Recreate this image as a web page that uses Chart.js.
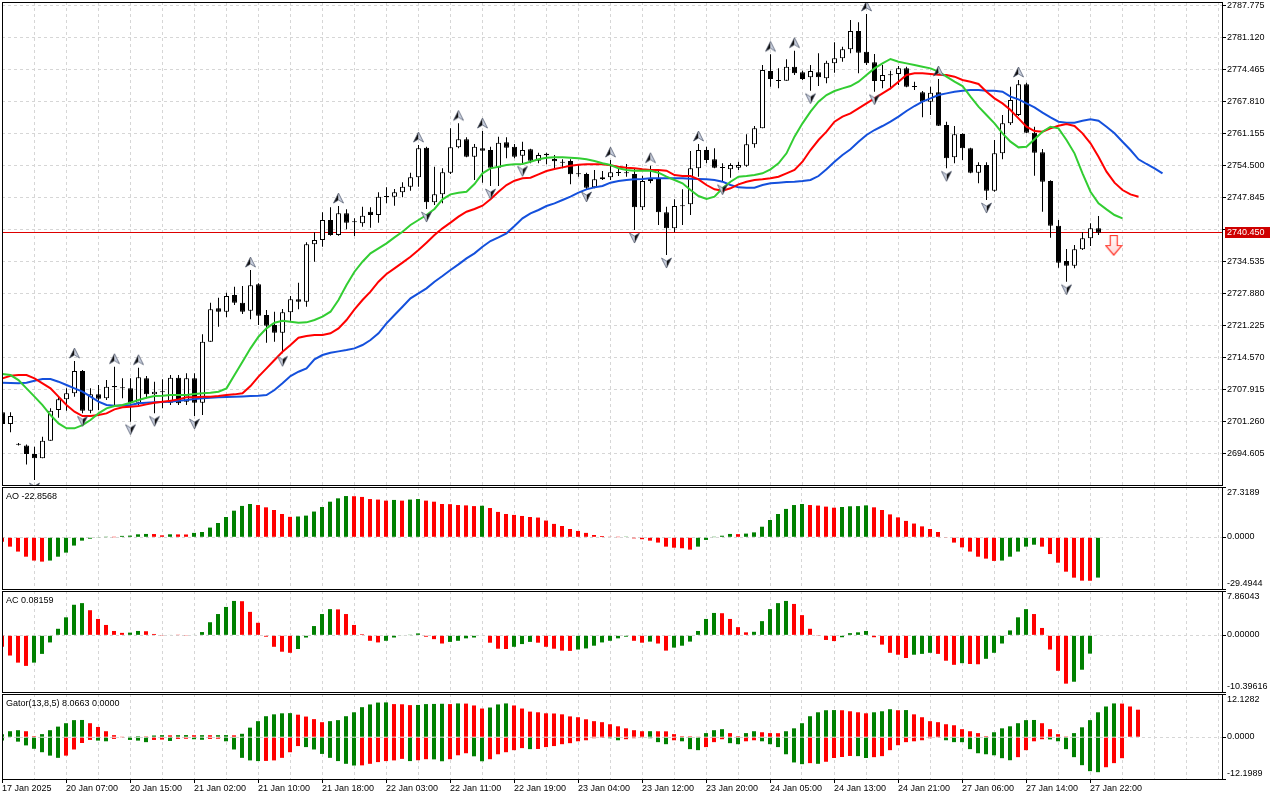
<!DOCTYPE html>
<html>
<head>
<meta charset="utf-8">
<title>XAUUSD H1 – Alligator, AO, AC, Gator</title>
<script src="https://cdn.jsdelivr.net/npm/chart.js@4.4.1/dist/chart.umd.min.js"></script>
<style>
  html, body { margin:0; padding:0; background:#ffffff; width:1280px; height:800px; overflow:hidden; }
  canvas { position:absolute; left:0; top:0; }
</style>
</head>
<body>
<canvas id="mainChart" width="1280" height="800"></canvas>
<canvas id="aoChart" width="1280" height="800"></canvas>
<canvas id="acChart" width="1280" height="800"></canvas>
<canvas id="gatorChart" width="1280" height="800"></canvas>
<script>
// ---------------- DATA ----------------
const tickLabels = ["17 Jan 2025","20 Jan 07:00","20 Jan 15:00","21 Jan 02:00","21 Jan 10:00","21 Jan 18:00",
  "22 Jan 03:00","22 Jan 11:00","22 Jan 19:00","23 Jan 04:00","23 Jan 12:00","23 Jan 20:00",
  "24 Jan 05:00","24 Jan 13:00","24 Jan 21:00","27 Jan 06:00","27 Jan 14:00","27 Jan 22:00"];

const priceTicks = [2694.605,2701.260,2707.915,2714.570,2721.225,2727.880,2734.535,2741.190,
  2747.845,2754.500,2761.155,2767.810,2774.465,2781.120,2787.775];

const opens = [2703.12,2700.69,2696.60,2696.25,2694.45,2693.55,2697.22,2703.60,2705.82,2707.07,
  2711.71,2703.46,2706.86,2706.03,2708.59,2708.32,2708.11,2705.13,2710.19,2706.86,
  2707.42,2705.13,2710.33,2705.34,2710.19,2705.13,2717.82,2724.75,2724.05,2727.52,
  2725.93,2724.26,2729.74,2723.36,2721.28,2719.69,2723.92,2726.62,2726.13,2738.06,
  2738.96,2743.12,2740.00,2744.51,2742.77,2742.43,2744.85,2744.16,2747.97,2747.97,
  2748.87,2750.05,2751.99,2758.16,2746.79,2748.46,2752.97,2758.23,2759.90,2756.29,
  2758.03,2757.68,2754.01,2759.27,2758.37,2756.50,2757.82,2755.46,2756.57,2755.81,
  2755.18,2755.39,2752.76,2752.69,2749.91,2751.58,2751.99,2753.03,2752.97,2752.69,
  2745.75,2751.23,2751.65,2744.71,2741.39,2746.10,2746.38,2753.87,2757.68,2755.74,
  2754.07,2753.66,2754.01,2754.42,2758.86,2762.19,2774.11,2772.17,2772.10,2775.01,
  2773.83,2772.79,2773.83,2772.58,2775.70,2776.74,2778.62,2782.43,2778.13,2775.91,
  2772.03,2773.35,2773.49,2774.67,2770.92,2769.67,2767.73,2769.67,2762.88,2756.15,
  2761.01,2758.03,2752.97,2754.56,2749.22,2756.99,2763.23,2764.96,2771.34,2761.28,
  2757.19,2751.23,2741.94,2734.59,2733.62,2737.02,2739.31,2741.39];

const highs = [2703.46,2703.12,2696.74,2696.46,2695.98,2698.06,2703.95,2706.38,2708.11,2713.79,
  2711.92,2708.11,2708.80,2709.84,2712.62,2710.19,2710.19,2712.41,2710.67,2709.50,
  2709.98,2710.88,2710.88,2711.23,2711.23,2719.34,2725.93,2726.97,2728.01,2729.25,
  2729.39,2732.72,2729.95,2724.40,2724.05,2724.61,2727.31,2730.09,2738.48,2740.56,
  2744.71,2745.75,2746.03,2745.34,2743.47,2745.89,2745.75,2748.87,2749.91,2749.57,
  2750.95,2752.97,2758.72,2758.37,2754.21,2753.87,2762.19,2763.23,2760.31,2758.93,
  2761.63,2758.37,2760.45,2760.31,2758.93,2759.41,2757.96,2757.12,2757.12,2756.64,
  2755.74,2755.74,2754.70,2752.97,2753.52,2753.31,2755.60,2753.87,2754.77,2753.87,
  2752.34,2754.42,2753.38,2745.89,2747.42,2749.50,2757.47,2758.93,2758.37,2758.03,
  2754.91,2754.91,2755.25,2760.94,2762.67,2775.36,2777.58,2774.67,2776.54,2778.34,
  2774.18,2775.36,2777.78,2776.26,2780.07,2779.17,2784.72,2784.23,2785.97,2777.65,
  2775.36,2774.18,2775.15,2775.01,2771.89,2769.95,2770.85,2772.45,2763.57,2762.67,
  2761.15,2758.16,2755.11,2755.11,2759.76,2764.96,2770.85,2772.24,2771.68,2762.53,
  2757.89,2751.40,2743.12,2737.09,2737.92,2740.56,2742.43,2743.95];

const lows = [2700.14,2698.96,2696.25,2692.30,2689.04,2693.55,2697.22,2702.01,2703.46,2706.38,
  2702.91,2702.91,2703.60,2705.68,2704.64,2706.03,2701.18,2704.64,2706.03,2702.91,
  2703.95,2704.64,2704.64,2704.64,2702.35,2702.56,2717.82,2720.94,2722.88,2725.44,
  2723.57,2722.46,2721.28,2717.61,2717.82,2715.39,2722.18,2724.54,2725.09,2734.45,
  2737.57,2739.86,2739.86,2741.18,2739.79,2741.73,2741.53,2742.57,2746.59,2746.10,
  2747.83,2749.22,2750.05,2745.41,2746.24,2746.59,2752.69,2758.03,2756.15,2751.44,
  2750.89,2750.19,2750.19,2755.95,2755.95,2754.91,2754.91,2754.91,2754.70,2753.52,
  2753.87,2750.54,2752.13,2749.57,2749.71,2751.44,2751.44,2752.27,2752.13,2741.04,
  2745.20,2750.75,2742.08,2735.84,2740.56,2742.08,2744.16,2752.13,2754.91,2753.87,
  2751.09,2751.93,2753.52,2754.21,2758.16,2762.19,2770.85,2770.51,2772.10,2773.28,
  2772.24,2770.02,2770.99,2771.54,2773.76,2776.05,2777.78,2773.62,2775.36,2769.81,
  2770.51,2770.30,2771.20,2770.71,2770.16,2764.47,2764.96,2762.67,2753.87,2754.91,
  2755.60,2752.83,2750.75,2747.28,2749.01,2755.74,2762.88,2764.75,2761.15,2752.34,
  2744.85,2739.45,2733.21,2730.29,2733.07,2736.88,2737.71,2740.00];

const closes = [2700.69,2702.35,2696.39,2694.45,2693.55,2697.22,2703.46,2705.82,2707.07,2711.71,
  2703.46,2706.86,2705.96,2708.46,2708.32,2708.11,2705.13,2710.40,2706.86,2707.42,
  2707.28,2710.33,2704.99,2710.19,2705.13,2717.82,2724.54,2724.05,2727.31,2725.93,
  2724.05,2729.53,2723.22,2721.14,2719.69,2723.92,2726.62,2726.13,2738.06,2738.96,
  2743.12,2740.00,2744.51,2742.57,2742.64,2744.02,2744.16,2747.97,2747.90,2748.87,
  2750.05,2751.99,2758.03,2746.79,2748.46,2753.03,2758.23,2759.90,2756.29,2758.37,
  2757.54,2754.01,2759.20,2758.16,2756.29,2757.68,2755.46,2756.64,2756.92,2755.32,
  2755.04,2752.62,2752.62,2749.85,2751.58,2751.99,2753.03,2752.90,2752.83,2745.75,
  2751.23,2751.65,2744.71,2741.39,2746.03,2745.96,2753.87,2757.68,2755.60,2754.01,
  2753.94,2754.56,2754.56,2758.86,2762.19,2774.32,2772.45,2772.03,2775.01,2773.62,
  2772.45,2774.11,2772.79,2775.84,2776.74,2778.62,2782.43,2777.92,2775.70,2772.03,
  2773.28,2773.21,2774.67,2770.85,2770.78,2767.73,2769.60,2762.74,2755.95,2760.94,
  2758.03,2752.97,2754.56,2749.22,2756.99,2763.23,2768.08,2771.34,2761.28,2757.12,
  2751.09,2741.94,2734.25,2733.62,2737.02,2739.31,2741.39,2740.45];

// Alligator lines (already shifted forward: jaw +8, teeth +5, lips +3 bars)
const jaw = [2709.29,2709.22,2709.15,2709.29,2709.70,2710.05,2710.05,2709.50,2708.80,2708.11,
  2707.42,2706.38,2705.34,2704.64,2704.50,2704.57,2704.64,2704.99,2705.13,2705.20,
  2705.27,2705.34,2705.54,2705.68,2705.89,2706.03,2706.17,2706.24,2706.31,2706.38,
  2706.44,2706.51,2706.58,2706.72,2707.76,2709.15,2710.67,2711.57,2712.27,2714.14,
  2715.04,2715.53,2715.80,2716.08,2716.43,2717.12,2718.16,2719.55,2721.63,2723.36,
  2725.09,2726.83,2727.87,2728.91,2730.29,2731.47,2732.72,2733.90,2735.15,2736.19,
  2737.57,2738.75,2739.52,2740.35,2741.87,2743.47,2744.51,2745.20,2746.03,2746.59,
  2747.28,2747.97,2748.81,2749.50,2749.91,2750.19,2750.89,2751.23,2751.44,2751.58,
  2751.65,2751.79,2751.79,2751.79,2751.79,2751.79,2751.72,2751.65,2751.58,2751.44,
  2751.09,2750.40,2749.91,2749.84,2749.84,2750.40,2750.75,2750.88,2751.02,2751.09,
  2751.23,2751.44,2752.27,2753.66,2755.25,2756.64,2757.82,2759.41,2760.80,2761.84,
  2762.67,2763.57,2764.61,2765.79,2766.83,2767.73,2768.42,2769.12,2769.46,2769.81,
  2770.02,2770.16,2770.16,2770.02,2770.02,2769.81,2768.77,2768.22,2767.38,2766.55,
  2765.44,2764.47,2763.57,2763.36,2763.36,2763.78,2764.06,2763.78,2762.53,2761.15,
  2759.41,2757.68,2755.74,2754.77,2753.87,2752.83];

const teeth = [2710.19,2710.74,2710.88,2710.88,2710.19,2709.15,2708.11,2706.38,2704.64,2703.26,
  2702.35,2702.35,2702.56,2702.91,2703.74,2704.16,2704.30,2704.43,2704.78,2705.13,
  2705.34,2705.54,2705.82,2706.24,2706.24,2706.38,2706.38,2706.51,2706.72,2706.86,
  2707.07,2708.59,2710.54,2712.27,2714.00,2715.73,2717.12,2718.65,2718.99,2719.20,
  2719.20,2719.55,2720.59,2722.32,2724.54,2726.48,2728.21,2730.29,2731.89,2733.07,
  2734.25,2735.49,2736.88,2738.41,2740.00,2741.39,2742.57,2743.81,2744.85,2745.41,
  2746.10,2747.42,2749.01,2750.40,2751.30,2751.79,2751.92,2752.62,2753.31,2753.73,
  2754.07,2754.42,2754.63,2754.70,2754.70,2754.70,2754.49,2754.21,2754.00,2753.87,
  2753.66,2753.52,2753.52,2753.38,2752.48,2752.27,2752.27,2751.58,2750.40,2749.50,
  2749.22,2749.71,2750.54,2751.09,2751.44,2751.58,2751.79,2752.13,2752.83,2753.52,
  2755.25,2757.68,2759.76,2761.49,2763.57,2764.61,2765.30,2766.35,2767.38,2768.42,
  2769.46,2770.50,2771.89,2773.28,2773.62,2773.62,2773.49,2773.35,2773.28,2772.93,
  2772.24,2771.89,2771.41,2769.81,2768.42,2767.38,2766.00,2764.27,2762.53,2761.63,
  2761.49,2762.19,2762.74,2763.09,2762.67,2761.15,2759.07,2756.29,2753.17,2750.88,
  2749.36,2748.46,2747.97];

const lips = [2711.09,2710.88,2709.84,2708.11,2706.38,2704.64,2702.56,2700.83,2699.79,2699.79,
  2700.48,2701.52,2702.91,2703.95,2704.43,2704.64,2705.13,2705.68,2706.17,2706.51,
  2706.58,2706.72,2706.72,2706.72,2706.93,2707.07,2707.21,2707.42,2708.11,2710.88,
  2713.65,2716.43,2718.85,2720.59,2721.77,2722.18,2721.97,2721.77,2721.84,2722.32,
  2723.01,2724.05,2726.48,2729.60,2732.37,2734.45,2736.19,2737.23,2738.27,2739.52,
  2740.69,2742.08,2743.12,2744.16,2745.41,2747.42,2748.46,2748.81,2749.01,2750.61,
  2752.83,2753.87,2754.21,2754.56,2754.70,2754.77,2755.25,2755.74,2756.08,2756.15,
  2756.15,2756.08,2755.95,2755.74,2755.39,2754.91,2754.56,2753.87,2753.52,2753.38,
  2753.38,2753.38,2752.96,2752.13,2751.44,2750.75,2749.36,2748.11,2747.49,2747.97,
  2749.71,2751.09,2752.13,2752.27,2752.48,2752.83,2753.66,2754.91,2756.99,2760.45,
  2763.23,2765.65,2767.73,2769.12,2769.95,2770.50,2770.99,2771.89,2773.28,2774.66,
  2775.70,2776.61,2776.05,2775.70,2775.36,2775.01,2774.66,2773.97,2772.93,2771.89,
  2770.99,2768.77,2766.69,2764.96,2763.23,2761.15,2759.41,2758.23,2758.37,2759.90,
  2761.49,2762.53,2762.19,2759.76,2756.99,2752.83,2749.01,2746.59,2745.34,2744.16,
  2743.47];

const upFractals = [9,14,17,31,42,52,57,60,76,81,87,96,99,108,117,127];
const downFractals = [4,10,16,19,24,35,53,61,65,73,79,83,90,101,109,118,123,133];

const currentPrice = 2740.45;
const signalBar = [138.9];
const signalPrice = [2737.8];

const aoValues = [-2.5,-5.3,-8.1,-11.0,-13.2,-13.8,-13.2,-11.0,-8.7,-4.7,
  -1.9,-0.8,-0.2,0.1,0.05,0.8,0.95,1.7,1.9,1.85,
  1.1,1.7,1.65,1.6,2.5,3.0,5.5,8.1,11.5,15.1,
  17.8,18.9,18.3,17.0,15.5,13.2,11.6,11.8,12.3,14.6,
  17.2,20.2,22.1,23.4,23.3,22.9,21.7,21.4,20.8,21.2,
  20.8,21.4,21.7,20.8,20.2,18.9,18.8,18.3,18.1,17.7,
  17.9,16.6,14.4,13.2,12.7,12.1,11.5,11.2,9.5,7.6,
  6.4,4.7,3.6,2.5,1.3,0.75,0.2,0.1,0.15,-0.6,
  -1.1,-1.9,-3.0,-5.3,-5.9,-6.2,-7.0,-5.3,-1.5,0.1,
  0.9,1.9,1.8,2.1,2.8,6.0,9.8,13.2,16.1,18.3,
  18.9,18.3,18.0,17.4,16.8,17.2,17.6,17.7,18.1,17.0,
  15.5,13.0,11.3,9.3,7.8,6.2,4.7,3.0,-0.2,-3.0,
  -5.7,-8.1,-11.0,-12.1,-13.4,-13.2,-11.0,-8.1,-5.3,-4.2,
  -5.3,-9.5,-14.4,-19.5,-22.9,-24.6,-24.65,-22.8568];
const aoScaleLabels = ["27.3189","0.0000","-29.4944"];

const acValues = [-2.1,-3.7,-5.0,-5.6,-5.0,-3.4,-1.3,1.2,3.3,5.6,
  5.9,4.6,3.0,1.9,0.8,0.45,0.5,0.8,0.75,0.25,
  -0.05,0.1,0.05,-0.05,0.1,0.6,2.4,3.9,5.2,6.3,
  6.25,4.3,2.3,-0.25,-2.1,-3.0,-3.2,-2.5,-0.4,1.7,
  3.9,4.8,4.75,3.9,1.9,0.2,-1.0,-1.3,-1.0,-0.4,
  -0.1,0.05,0.35,-0.25,-0.7,-1.5,-1.2,-1.0,-0.55,-0.4,
  -0.1,-1.35,-2.45,-2.5,-2.1,-1.6,-1.2,-1.35,-2.1,-2.45,
  -2.8,-2.85,-2.6,-2.4,-1.9,-1.3,-1.0,-0.55,-0.25,-1.0,
  -1.35,-1.15,-1.5,-2.8,-2.25,-1.9,-1.15,0.8,3.0,4.1,
  4.05,3.0,1.5,0.55,0.65,2.6,4.8,5.9,6.3,5.75,
  3.7,1.2,-0.05,-0.85,-1.05,-0.35,0.4,0.55,0.8,-0.35,
  -1.7,-3.2,-3.55,-4.15,-3.55,-3.4,-3.2,-3.4,-4.65,-5.4,
  -5.1,-5.25,-5.3,-4.3,-3.2,-1.5,0.9,3.3,4.8,3.9,
  1.35,-2.6,-6.5,-8.85,-8.5,-6.3,-3.35,0.08159];
const acScaleLabels = ["7.86043","0.00000","-10.39616"];

const gatorUpper = [0.9,1.75,2.05,1.75,0.3,0.9,2.05,3.1,4.1,5.0,
  5.05,4.1,3.0,1.75,0.6,0.1,0.2,0.3,0.25,0.5,
  0.6,0.55,0.6,0.62,0.58,0.6,0.58,0.6,0.62,0.55,
  1.0,2.8,4.7,6.15,6.7,7.0,7.05,6.6,6.05,5.3,
  4.4,4.7,5.0,6.15,7.3,8.8,9.6,10.15,10.2,9.7,
  9.65,9.4,9.45,9.7,9.75,9.8,9.7,9.9,9.85,9.3,
  8.4,8.7,9.6,9.9,9.3,8.4,7.5,7.3,7.0,6.95,
  6.7,6.1,5.85,5.25,4.7,4.4,3.8,3.2,2.6,2.05,
  1.75,1.76,1.74,1.72,0.9,0.3,0.28,0.1,1.2,2.05,
  2.35,1.2,0.3,1.2,1.75,1.45,1.2,1.18,1.75,2.6,
  4.1,6.15,7.3,7.9,7.95,7.9,7.6,7.3,7.0,7.3,
  7.6,8.2,7.9,7.95,6.7,5.85,4.7,4.4,3.8,3.5,
  2.35,1.75,1.2,0.3,1.45,2.6,3.2,4.1,5.0,5.05,
  4.1,2.35,0.9,0.05,1.2,2.9,5.0,7.3,9.0,9.9,
  9.85,9.0,8.0663];
const gatorLower = [-1.0,-0.15,-1.3,-2.4,-3.4,-4.4,-5.4,-6.05,-5.4,-3.6,
  -1.7,-0.8,-1.0,-1.2,-0.5,-0.1,-0.8,-1.0,-1.45,-0.8,
  -0.7,-1.1,-0.5,-0.45,-0.6,-0.75,-0.5,-0.45,-1.2,-3.6,
  -6.05,-6.8,-7.0,-6.95,-6.8,-6.05,-4.4,-2.6,-2.9,-3.6,
  -4.9,-6.05,-7.0,-7.8,-8.3,-8.25,-7.8,-7.3,-7.0,-6.8,
  -6.35,-7.0,-6.75,-6.45,-6.5,-7.05,-6.45,-5.3,-4.7,-5.6,
  -7.05,-6.45,-5.0,-4.4,-3.8,-3.2,-3.5,-3.45,-2.9,-2.6,
  -2.05,-1.75,-1.2,-0.9,-0.3,-0.05,-0.3,-0.9,-0.6,-0.3,
  -0.2,-0.3,-1.45,-2.05,-0.9,-1.2,-3.5,-3.8,-2.9,-1.45,
  -0.6,-1.75,-2.05,-1.2,-0.9,-1.2,-2.05,-2.9,-5.0,-7.4,
  -7.9,-7.6,-7.8,-7.2,-6.1,-5.8,-5.5,-5.55,-6.1,-5.85,
  -5.55,-3.8,-2.35,-1.45,-1.2,-0.9,-0.3,-0.2,-0.9,-1.45,
  -1.46,-3.5,-4.7,-5.0,-5.3,-6.15,-6.75,-5.85,-3.8,-1.2,
  -0.6,-0.65,-1.2,-3.5,-5.85,-8.2,-9.95,-10.25,-8.8,-7.6,
  -6.15];
const gatorScaleLabels = ["12.1282","0.0000","-12.1989"];

// ---------------- STYLE ----------------
const UP_COLOR = '#008000', DOWN_COLOR = '#ff0000';
const GRID_COLOR = '#d6d6d6';
const JAW_COLOR = '#1450dc', TEETH_COLOR = '#ff0000', LIPS_COLOR = '#32cd32';
const FONT = "'Liberation Sans', Arial, Helvetica, sans-serif";
Chart.defaults.font.family = FONT;
Chart.defaults.font.size = 9;
Chart.defaults.color = '#000000';

const gridBars = [];
for (let b = 0; b <= 152; b += 4) gridBars.push(b);

function hasLabel(v) { return v % 8 === 0 && tickLabels[v / 8] !== undefined; }

function xAxis(min, max, withLabels) {
  return {
    type: 'linear', min: min, max: max, offset: false,
    afterBuildTicks: s => { s.ticks = gridBars.map(v => ({ value: v })); },
    afterFit: s => { s.height = withLabels ? 21 : 0; s.paddingLeft = 0; s.paddingRight = 0; },
    grid: {
      display: true, offset: false, color: GRID_COLOR, lineWidth: 1,
      drawTicks: withLabels, tickLength: 4, tickBorderDash: [],
      tickColor: c => (c.tick && hasLabel(c.tick.value)) ? '#000000' : 'rgba(0,0,0,0)'
    },
    border: { display: false, dash: [3, 3] },
    ticks: {
      display: withLabels, autoSkip: false, maxRotation: 0, minRotation: 0,
      align: 'start', padding: 0,
      callback: v => hasLabel(v) ? tickLabels[v / 8] : ''
    }
  };
}

function subYAxis(min, max) {
  return {
    position: 'right', min: min, max: max,
    afterBuildTicks: s => { s.ticks = [max, 0, min].map(v => ({ value: v })); },
    afterFit: s => { s.width = 58; s.paddingTop = 0; s.paddingBottom = 0; },
    ticks: { display: false },
    grid: {
      color: c => (c.tick && c.tick.value === 0) ? GRID_COLOR : 'rgba(0,0,0,0)',
      tickColor: '#000000', tickLength: 4, drawTicks: true, tickBorderDash: []
    },
    border: { display: false, dash: [3, 3] }
  };
}

function trendColors(vals, first, useAbs) {
  const out = []; let c = first;
  vals.forEach((v, i) => {
    if (i > 0) {
      const a = useAbs ? Math.abs(v) : v;
      const b = useAbs ? Math.abs(vals[i - 1]) : vals[i - 1];
      if (a > b) c = UP_COLOR; else if (a < b) c = DOWN_COLOR;
    }
    out.push(c);
  });
  return out;
}

function panelPlugin(title, scaleLabels) {
  return {
    id: 'panelDecor',
    afterDraw(chart) {
      const ctx = chart.ctx, a = chart.chartArea, y = chart.scales.y;
      ctx.save();
      ctx.strokeStyle = '#000000'; ctx.lineWidth = 1;
      ctx.strokeRect(a.left + 0.5, a.top + 0.5, a.right - a.left, a.bottom - a.top);
      ctx.font = '9px ' + FONT; ctx.fillStyle = '#000000';
      ctx.textBaseline = 'middle'; ctx.textAlign = 'left';
      if (title) ctx.fillText(title, a.left + 4, a.top + 10);
      if (scaleLabels) {
        ctx.fillText(scaleLabels[0], a.right + 5, a.top + 5.5);
        ctx.fillText(scaleLabels[1], a.right + 5, y.getPixelForValue(0) - 0.5);
        ctx.fillText(scaleLabels[2], a.right + 5, a.bottom - 5);
      }
      ctx.restore();
    }
  };
}

function fractalImage(up) {
  const c = document.createElement('canvas');
  c.width = 11; c.height = 30;
  const g = c.getContext('2d');
  if (!up) { g.translate(11, 30); g.rotate(Math.PI); }
  g.beginPath(); g.moveTo(5.5, 2); g.lineTo(5.5, 9); g.lineTo(0.5, 12); g.closePath();
  g.fillStyle = '#111111'; g.fill();
  g.beginPath(); g.moveTo(5.5, 2); g.lineTo(10.5, 12); g.lineTo(5.5, 9); g.closePath();
  g.fillStyle = '#c7cedd'; g.fill();
  g.beginPath(); g.moveTo(5.5, 2); g.lineTo(10.5, 12); g.lineTo(5.5, 9); g.lineTo(0.5, 12); g.closePath();
  g.strokeStyle = '#4a5468'; g.lineWidth = 0.7; g.stroke();
  return c;
}

function signalImage() {
  const c = document.createElement('canvas');
  c.width = 18; c.height = 21;
  const g = c.getContext('2d');
  g.beginPath();
  g.moveTo(5.5, 0.5); g.lineTo(12.5, 0.5); g.lineTo(12.5, 10.5); g.lineTo(17, 10.5);
  g.lineTo(9, 20); g.lineTo(1, 10.5); g.lineTo(5.5, 10.5); g.closePath();
  const grad = g.createLinearGradient(0, 0, 0, 20);
  grad.addColorStop(0, '#ffffff'); grad.addColorStop(1, '#ffd6d6');
  g.fillStyle = grad; g.fill();
  g.strokeStyle = '#ff3b2f'; g.lineWidth = 1.2; g.stroke();
  return c;
}

const baseOptions = {
  responsive: false, maintainAspectRatio: false, animation: false, events: [],
  plugins: { legend: { display: false }, tooltip: { enabled: false }, title: { display: false } }
};

const barCommon = { grouped: false, barPercentage: 1, categoryPercentage: 1, inflateAmount: 0, borderWidth: 0 };

// ---------------- MAIN CHART ----------------
const bodyFill = closes.map((c, i) => c >= opens[i] ? '#ffffff' : '#000000');

const pricePlugin = {
  id: 'priceLine',
  beforeDatasetsDraw(chart) {
    const ctx = chart.ctx, a = chart.chartArea;
    const py = Math.floor(chart.scales.y.getPixelForValue(currentPrice)) + 0.5;
    ctx.save(); ctx.strokeStyle = '#dd0000'; ctx.lineWidth = 1;
    ctx.beginPath(); ctx.moveTo(a.left, py); ctx.lineTo(a.right, py); ctx.stroke();
    ctx.restore();
  },
  afterDraw(chart) {
    const ctx = chart.ctx, a = chart.chartArea;
    const py = Math.floor(chart.scales.y.getPixelForValue(currentPrice));
    ctx.save();
    ctx.fillStyle = '#cf0000';
    ctx.fillRect(a.right + 3, py - 5, 45, 11);
    ctx.font = '9px ' + FONT; ctx.fillStyle = '#ffffff';
    ctx.textBaseline = 'middle'; ctx.textAlign = 'left';
    ctx.fillText(currentPrice.toFixed(3), a.right + 5, py + 0.5);
    ctx.restore();
  }
};

new Chart(document.getElementById('mainChart'), {
  type: 'bar',
  data: {
    datasets: [
      { type: 'line', label: 'Signal', data: signalBar.map((b, k) => ({ x: b, y: signalPrice[k] })),
        showLine: false, pointStyle: signalImage(), pointRadius: 5, order: -2 },
      { type: 'line', label: 'Fractals up', data: upFractals.map(i => ({ x: i, y: highs[i] })),
        showLine: false, pointStyle: fractalImage(true), pointRadius: 5, order: -1 },
      { type: 'line', label: 'Fractals down', data: downFractals.map(i => ({ x: i, y: lows[i] })),
        showLine: false, pointStyle: fractalImage(false), pointRadius: 5, order: -1 },
      { type: 'line', label: 'Lips', data: lips.map((v, i) => ({ x: i, y: v })),
        borderColor: LIPS_COLOR, borderWidth: 2, pointRadius: 0, tension: 0, fill: false, order: 0 },
      { type: 'line', label: 'Teeth', data: teeth.map((v, i) => ({ x: i, y: v })),
        borderColor: TEETH_COLOR, borderWidth: 2, pointRadius: 0, tension: 0, fill: false, order: 0 },
      { type: 'line', label: 'Jaw', data: jaw.map((v, i) => ({ x: i, y: v })),
        borderColor: JAW_COLOR, borderWidth: 2, pointRadius: 0, tension: 0, fill: false, order: 0 },
      Object.assign({ type: 'bar', label: 'Body', data: opens.map((o, i) => ({ x: i, y: [o, closes[i]] })),
        backgroundColor: bodyFill, borderColor: '#000000', barThickness: 5, maxBarThickness: 5,
        minBarLength: 1, borderSkipped: false, order: 1 }, barCommon, { borderWidth: 1 }),
      Object.assign({ type: 'bar', label: 'Wick', data: lows.map((l, i) => ({ x: i, y: [l, highs[i]] })),
        backgroundColor: '#000000', barThickness: 1, maxBarThickness: 1, order: 2 }, barCommon)
    ]
  },
  options: Object.assign({}, baseOptions, {
    layout: { padding: { left: 2, right: 0, top: 2, bottom: 315 }, autoPadding: false },
    scales: {
      x: xAxis(-0.0625, 152.4375, false),
      y: {
        position: 'right', min: 2688.012, max: 2788.461,
        afterBuildTicks: s => { s.ticks = priceTicks.map(v => ({ value: v })); },
        afterFit: s => { s.width = 58; s.paddingTop = 0; s.paddingBottom = 0; },
        ticks: { display: true, padding: 1, autoSkip: false,
          callback: v => Math.abs(v - currentPrice) < 1.5 ? '' : Number(v).toFixed(3) },
        grid: { color: GRID_COLOR, tickColor: '#000000', tickLength: 4, drawTicks: true, tickBorderDash: [] },
        border: { display: false, dash: [3, 3] }
      }
    }
  }),
  plugins: [panelPlugin(null, null), pricePlugin]
});

// ---------------- AO ----------------
new Chart(document.getElementById('aoChart'), {
  type: 'bar',
  data: { datasets: [ Object.assign({ label: 'AO', data: aoValues.map((v, i) => ({ x: i, y: v })),
    backgroundColor: trendColors(aoValues, DOWN_COLOR, false), barThickness: 4, maxBarThickness: 4 }, barCommon) ] },
  options: Object.assign({}, baseOptions, {
    layout: { padding: { left: 2, right: 0, top: 487, bottom: 211 }, autoPadding: false },
    scales: { x: xAxis(0, 152.5, false), y: subYAxis(-29.33, 28.53) }
  }),
  plugins: [panelPlugin('AO ' + aoValues[aoValues.length - 1].toFixed(4), aoScaleLabels)]
});

// ---------------- AC ----------------
new Chart(document.getElementById('acChart'), {
  type: 'bar',
  data: { datasets: [ Object.assign({ label: 'AC', data: acValues.map((v, i) => ({ x: i, y: v })),
    backgroundColor: trendColors(acValues, DOWN_COLOR, false), barThickness: 4, maxBarThickness: 4 }, barCommon) ] },
  options: Object.assign({}, baseOptions, {
    layout: { padding: { left: 2, right: 0, top: 591, bottom: 108 }, autoPadding: false },
    scales: { x: xAxis(0, 152.5, false), y: subYAxis(-10.38, 8.12) }
  }),
  plugins: [panelPlugin('AC ' + acValues[acValues.length - 1].toFixed(5), acScaleLabels)]
});

// ---------------- GATOR ----------------
new Chart(document.getElementById('gatorChart'), {
  type: 'bar',
  data: { datasets: [
    Object.assign({ label: 'Gator upper', data: gatorUpper.map((v, i) => ({ x: i, y: v })),
      backgroundColor: trendColors(gatorUpper, UP_COLOR, true), barThickness: 4, maxBarThickness: 4 }, barCommon),
    Object.assign({ label: 'Gator lower', data: gatorLower.map((v, i) => ({ x: i, y: v })),
      backgroundColor: trendColors(gatorLower, UP_COLOR, true), barThickness: 4, maxBarThickness: 4 }, barCommon)
  ] },
  options: Object.assign({}, baseOptions, {
    layout: { padding: { left: 2, right: 0, top: 694, bottom: 0 }, autoPadding: false },
    scales: { x: xAxis(0, 152.5, true), y: subYAxis(-12.25, 12.66) }
  }),
  plugins: [panelPlugin('Gator(13,8,5) ' + gatorUpper[gatorUpper.length - 1].toFixed(4) + ' 0.0000', gatorScaleLabels)]
});
</script>
</body>
</html>
